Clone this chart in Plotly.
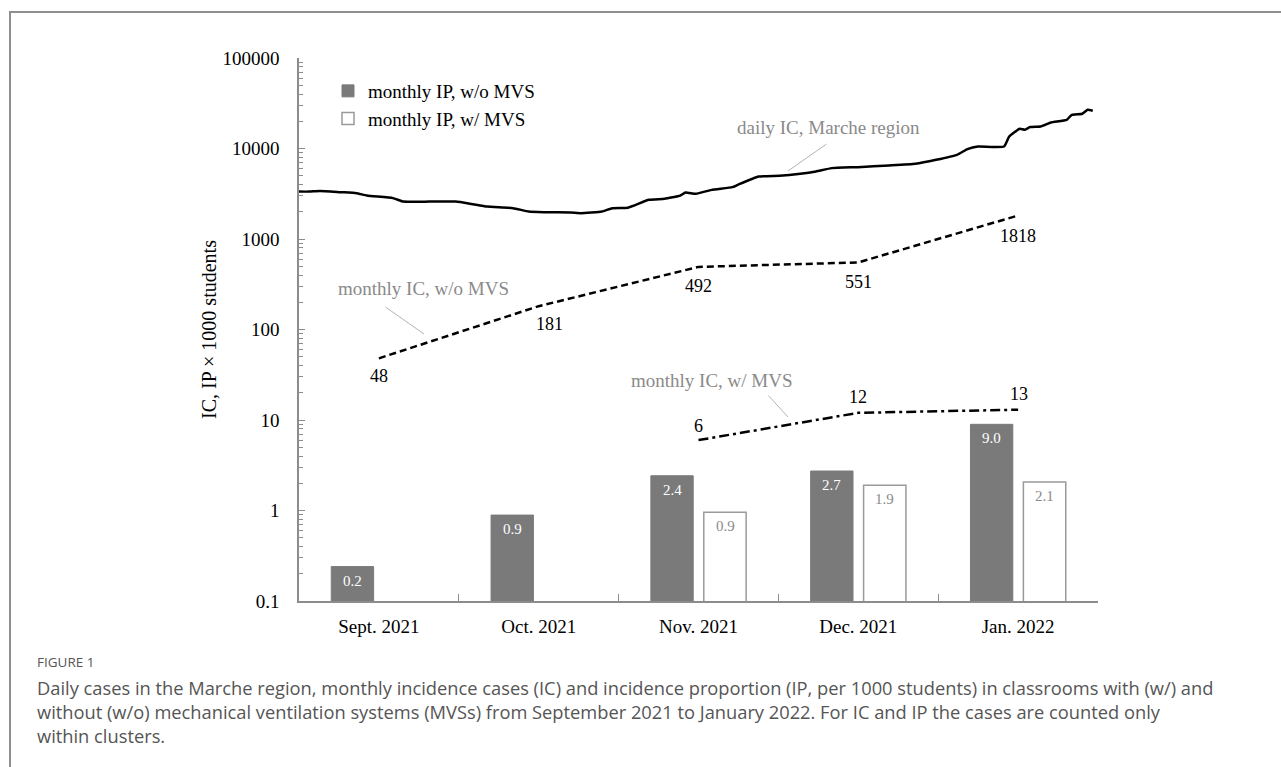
import numpy as np
import plotly.graph_objects as go

# ---------------- data ----------------
months = ["Sept. 2021", "Oct. 2021", "Nov. 2021", "Dec. 2021", "Jan. 2022"]

ip_wo = [0.24, 0.89, 2.42, 2.73, 8.96]
ip_wo_labels = ["0.2", "0.9", "2.4", "2.7", "9.0"]
ip_w = [None, None, 0.955, 1.90, 2.07]
ip_w_labels = ["", "", "0.9", "1.9", "2.1"]

ic_wo = [48, 181, 492, 551, 1818]
ic_w = [None, None, 6, 12, 13]

daily_dates = ["2021-09-01", "2021-09-03", "2021-09-05", "2021-09-09", "2021-09-12",
               "2021-09-14", "2021-09-19", "2021-09-21", "2021-09-26", "2021-10-01",
               "2021-10-04", "2021-10-07", "2021-10-12", "2021-10-15", "2021-10-18",
               "2021-10-23", "2021-10-25", "2021-10-29", "2021-10-31", "2021-11-03",
               "2021-11-07", "2021-11-10", "2021-11-13", "2021-11-14", "2021-11-16",
               "2021-11-19", "2021-11-23", "2021-11-24", "2021-11-28", "2021-12-02",
               "2021-12-06", "2021-12-09", "2021-12-12", "2021-12-17", "2021-12-23",
               "2021-12-28", "2022-01-01", "2022-01-05", "2022-01-07", "2022-01-09",
               "2022-01-14", "2022-01-15", "2022-01-17", "2022-01-18", "2022-01-19",
               "2022-01-21", "2022-01-23", "2022-01-26", "2022-01-27", "2022-01-29",
               "2022-01-30", "2022-01-31"]
daily_values = [3340, 3340, 3400, 3290, 3210, 3020, 2830, 2590, 2590, 2590,
                2440, 2280, 2190, 2010, 1980, 1960, 1930, 2010, 2190, 2220,
                2710, 2780, 3020, 3260, 3160, 3490, 3740, 3960, 4900, 4990,
                5250, 5570, 6070, 6220, 6490, 6780, 7500, 8520, 9840, 10520,
                10520, 13580, 16520, 16100, 17260, 17510, 19400, 20760, 23590, 24200,
                26790, 26100]

y_tickvals = [0.1, 1, 10, 100, 1000, 10000, 100000]
y_ticktext = ["0.1", "1", "10", "100", "1000", "10000", "100000"]

caption_head = "FIGURE 1"
caption_lines = [
    "Daily cases in the Marche region, monthly incidence cases (IC) and incidence proportion (IP, per 1000 students) in classrooms with (w/) and",
    "without (w/o) mechanical ventilation systems (MVSs) from September 2021 to January 2022. For IC and IP the cases are counted only",
    "within clusters.",
]

# ---------------- layout geometry ----------------
W, H = 1281, 767
ML, MR, MT, MB = 299, 183, 58, 166
PW = W - ML - MR
PH = H - MT - MB


def px(xp):
    return (xp - ML) / PW


def py(yp):
    return (H - MB - yp) / PH


SERIF = "Liberation Serif, Times New Roman, serif"
SANS = "Open Sans, sans-serif"
GRAY_BAR = "#7a7a7a"
AXIS = "#8c8c8c"
NOTE = "#8a8a8a"

fig = go.Figure()

fig.add_trace(go.Bar(
    x=months, y=ip_wo, name="monthly IP, w/o MVS",
    marker=dict(color=GRAY_BAR, line=dict(color=GRAY_BAR, width=1)),
))
fig.add_trace(go.Bar(
    x=months, y=ip_w, name="monthly IP, w/ MVS",
    marker=dict(color="white", line=dict(color="#9a9a9a", width=1.5)),
))

fig.add_trace(go.Scatter(
    x=months, y=ic_wo, mode="lines", showlegend=False,
    line=dict(color="black", width=2.5, dash="7px,4px"),
))
fig.add_trace(go.Scatter(
    x=months, y=ic_w, mode="lines", showlegend=False,
    line=dict(color="black", width=2.5, dash="10px,4px,3px,4px"),
))
fig.add_trace(go.Scatter(
    x=daily_dates, y=daily_values, mode="lines", showlegend=False,
    xaxis="x2", line=dict(color="black", width=2.5, shape="spline", smoothing=0.4),
))

annotations = []

# bar value labels
for m, v, t in zip(months, ip_wo, ip_wo_labels):
    annotations.append(dict(x=m, y=np.log10(v), text=t, showarrow=False,
                            xshift=-26.5, yshift=-14, yanchor="middle",
                            font=dict(family=SERIF, size=15, color="white")))
for m, v, t in zip(months, ip_w, ip_w_labels):
    if v is None:
        continue
    annotations.append(dict(x=m, y=np.log10(v), text=t, showarrow=False,
                            xshift=26.5, yshift=-14, yanchor="middle",
                            font=dict(family=SERIF, size=15, color="#8a8a8a")))

# line value labels
wo_shifts = [(0, -18), (11, -18), (0, -19), (0, -20), (0, -20)]
for m, v, (dx, dy) in zip(months, ic_wo, wo_shifts):
    annotations.append(dict(x=m, y=np.log10(v), text=str(v), showarrow=False,
                            xshift=dx, yshift=dy,
                            font=dict(family=SERIF, size=18, color="black")))
w_shifts = [None, None, (0, 14), (0, 16), (1, 16)]
for m, v, s in zip(months, ic_w, w_shifts):
    if v is None:
        continue
    annotations.append(dict(x=m, y=np.log10(v), text=str(v), showarrow=False,
                            xshift=s[0], yshift=s[1],
                            font=dict(family=SERIF, size=18, color="black")))

# series notes with leader lines
notes = [
    ("daily IC, Marche region", 828, 127),
    ("monthly IC, w/o MVS", 423, 288),
    ("monthly IC, w/ MVS", 712, 381),
]
for txt, xp, yp in notes:
    annotations.append(dict(xref="paper", yref="paper", x=px(xp), y=py(yp), text=txt,
                            showarrow=False, xanchor="center", yanchor="middle",
                            font=dict(family=SERIF, size=19, color=NOTE)))
leaders = [((788, 171), (40, -28)), ((424, 334), (-40, -28)), ((788, 417), (-21, -23))]
for (hx, hy), (ax, ay) in leaders:
    annotations.append(dict(xref="paper", yref="paper", x=px(hx), y=py(hy), text="",
                            showarrow=True, arrowhead=0, arrowwidth=1,
                            arrowcolor="#b5b5b5", ax=ax, ay=ay, standoff=0))

# caption
annotations.append(dict(xref="paper", yref="paper", x=px(35), y=py(662), text=caption_head,
                        showarrow=False, xanchor="left", yanchor="middle",
                        font=dict(family=SANS, size=13.5, color="#555555")))
annotations.append(dict(xref="paper", yref="paper", x=px(35), y=py(673),
                        text="<br>".join(caption_lines), align="left",
                        showarrow=False, xanchor="left", yanchor="top",
                        font=dict(family=SANS, size=18.3, color="#555555")))

fig.update_layout(
    width=W, height=H,
    margin=dict(l=ML, r=MR, t=MT, b=MB, autoexpand=False),
    paper_bgcolor="white", plot_bgcolor="white",
    barmode="group", bargap=0.3375, bargroupgap=0.2,
    font=dict(family=SERIF, size=19, color="black"),
    showlegend=True,
    legend=dict(x=px(328), y=py(72), xanchor="left", yanchor="top",
                bgcolor="rgba(0,0,0,0)", itemwidth=30,
                font=dict(family=SERIF, size=19, color="black"),
                traceorder="normal"),
    xaxis=dict(type="category", range=[-0.5, 4.5], showgrid=False, zeroline=False,
               showline=True, linecolor=AXIS, linewidth=1.5,
               tickson="boundaries", ticks="inside", ticklen=7, tickcolor=AXIS,
               ticklabelstandoff=7,
               tickfont=dict(family=SERIF, size=19, color="black")),
    xaxis2=dict(type="date", overlaying="x", range=["2021-09-01", "2022-02-01"],
                visible=False),
    yaxis=dict(type="log", range=[-1, 5], showgrid=False, zeroline=False,
               showline=True, linecolor=AXIS, linewidth=1.5,
               tickmode="array", tickvals=y_tickvals, ticktext=y_ticktext,
               ticks="inside", ticklen=6, tickcolor=AXIS,
               minor=dict(ticks="inside", ticklen=4, tickcolor=AXIS, dtick="D1",
                          showgrid=False),
               ticklabelstandoff=14,
               tickfont=dict(family=SERIF, size=19, color="black"),
               title=dict(text="IC, IP × 1000 students", standoff=0,
                          font=dict(family=SERIF, size=20, color="black"))),
    annotations=annotations,
    shapes=[dict(type="rect", xref="paper", yref="paper",
                 x0=px(10), x1=px(1300), y0=py(790), y1=py(12),
                 line=dict(color="#8f8f8f", width=2), fillcolor="rgba(0,0,0,0)",
                 layer="below")],
)

fig.write_html("out.html", config={"displayModeBar": False},
               post_script="document.body.style.margin='0px';")
